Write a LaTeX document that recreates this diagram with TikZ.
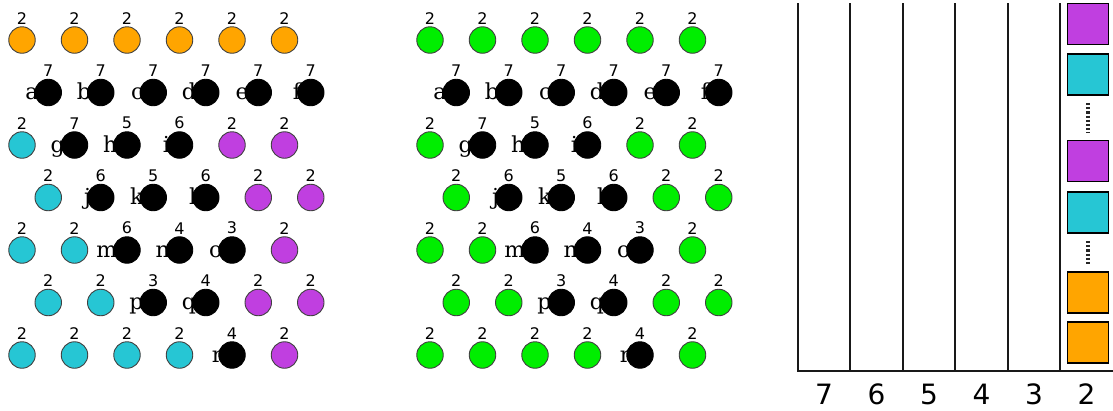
\documentclass[tikz,border=0pt]{standalone}
\usepackage{fontspec}
\newfontfamily\numfont{DejaVu Sans}
\newfontfamily\letfont{DejaVu Serif}
\usetikzlibrary{positioning}
\definecolor{ballorange}{HTML}{FFA500}
\definecolor{ballcyan}{HTML}{26C6D4}
\definecolor{ballpurple}{HTML}{C03FE0}
\definecolor{ballgreen}{HTML}{00EE00}
\tikzset{
  ball/.style={circle, draw=black!75, line width=0.9pt, minimum size=26.5pt, inner sep=0pt},
  deg/.style={font=\numfont\fontsize{16}{16}\selectfont, inner sep=1pt},
  tag/.style={font=\letfont\fontsize{22}{22}\selectfont, inner sep=0pt, anchor=base east},
  axnum/.style={font=\numfont\fontsize{28}{28}\selectfont, inner sep=0pt},
  slot/.style={rectangle, draw=black, line width=1.8pt, minimum size=41pt, inner sep=0pt},
  bar/.style={line width=2pt, black!90},
  dotcol/.style={line width=3.5pt, dash pattern=on 2.2pt off 2pt, black!85},
  bk/.style={fill=black, draw=black},
  bo/.style={fill=ballorange},
  bc/.style={fill=ballcyan},
  bp/.style={fill=ballpurple},
  palA/.style={},
  palB/.style={bo/.style={fill=ballgreen}, bc/.style={fill=ballgreen}, bp/.style={fill=ballgreen}}
}
\begin{document}
\begin{tikzpicture}[x=1pt, y=-1pt]
  \useasboundingbox (0,0) rectangle (1113,410);
  % two grids of balls: original colours and all green
  \foreach \p/\dx/\pal in {L/0/palA, R/408/palB} {
    \begin{scope}[xshift=\dx pt, \pal]
      \foreach \r/\off/\items in {
          0/0/{bo/2/-,bo/2/-,bo/2/-,bo/2/-,bo/2/-,bo/2/-},
          1/1/{bk/7/a,bk/7/b,bk/7/c,bk/7/d,bk/7/e,bk/7/f},
          2/0/{bc/2/-,bk/7/g,bk/5/h,bk/6/i,bp/2/-,bp/2/-},
          3/1/{bc/2/-,bk/6/j,bk/5/k,bk/6/l,bp/2/-,bp/2/-},
          4/0/{bc/2/-,bc/2/-,bk/6/m,bk/4/n,bk/3/o,bp/2/-},
          5/1/{bc/2/-,bc/2/-,bk/3/p,bk/4/q,bp/2/-,bp/2/-},
          6/0/{bc/2/-,bc/2/-,bc/2/-,bc/2/-,bk/4/r,bp/2/-}}
        \foreach \s/\n/\t [count=\c from 0] in \items {
          \coordinate (\p-\r-\c-pos) at ({22+26.25*\off+52.5*\c}, {40+52.5*\r});
          % letter sits partly behind its ball
          \if-\t\else
            \node[tag] (\p-\t) at ([shift={(-9.5,7)}]\p-\r-\c-pos) {\t};
          \fi
          \node[ball, \s, label={[deg, label distance=1pt]above:\n}]
            (\p-\r-\c) at (\p-\r-\c-pos) {};
        }
    \end{scope}
  }
  % buckets by degree
  \foreach \xx/\v [count=\i from 0] in {798/7,850/6,903/5,955/4,1008/3,1060/2} {
    \draw[bar] (\xx, 3) -- (\xx, 371);
    \node[axnum] (ax-\v) at (824+52.5*\i, 394) {\v};
  }
  \draw[bar] (797,371) -- (1113,371);
  % contents of bucket 2
  \foreach \nm/\yy/\col in {s1/24/bp, s2/74.5/bc, s3/161/bp,
                            s4/212.5/bc, s5/292.5/bo, s6/342.5/bo}
    \node[slot, \col] (\nm) at (1088,\yy) {};
  \draw[dotcol] ([yshift=-7pt]s2.south) -- ([yshift=7pt]s3.north);
  \draw[dotcol] ([yshift=-7pt]s4.south) -- ([yshift=7pt]s5.north);
\end{tikzpicture}
\end{document}
